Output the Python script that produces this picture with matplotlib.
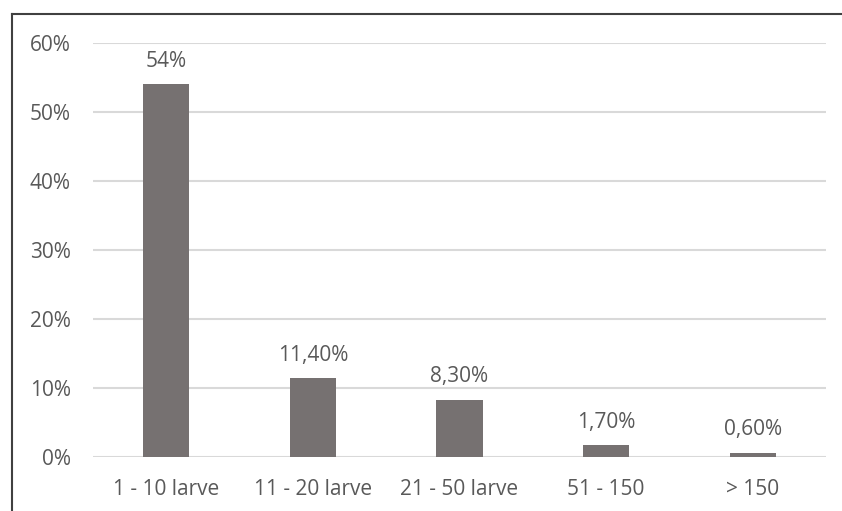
import matplotlib
matplotlib.use("Agg")
import matplotlib.pyplot as plt
from matplotlib.lines import Line2D
from matplotlib.ticker import FuncFormatter

categories = ["1 - 10 larve", "11 - 20 larve", "21 - 50 larve", "51 - 150", "> 150"]
values = [54.0, 11.4, 8.3, 1.7, 0.6]
value_labels = ["54%", "11,40%", "8,30%", "1,70%", "0,60%"]
y_ticks = [0, 10, 20, 30, 40, 50, 60]

bar_color = "#767171"
text_color = "#595959"
grid_color = "#d9d9d9"

plt.rcParams["font.family"] = ["Open Sans", "DejaVu Sans"]

W, H = 842, 511
fig = plt.figure(figsize=(W / 100, H / 100), dpi=100)
ax = fig.add_axes([93 / W, 1 - 457 / H, (826 - 93) / W, (457 - 43) / H])

x = list(range(len(categories)))
ax.bar(x, values, width=0.315, color=bar_color, zorder=3)
ax.set_xlim(-0.5, len(categories) - 0.5)
ax.set_ylim(0, 60)

ax.set_yticks(y_ticks)
ax.yaxis.set_major_formatter(FuncFormatter(lambda v, p: f"{v:.0f}%"))
ax.set_xticks(x)
ax.set_xticklabels(categories)
ax.tick_params(axis="both", length=0, labelsize=15, colors=text_color)
ax.tick_params(axis="y", pad=16)
ax.tick_params(axis="x", pad=16)

ax.grid(axis="y", color=grid_color, linewidth=1.5, zorder=0)
for s in ax.spines.values():
    s.set_visible(False)

for xi, v, lab in zip(x, values, value_labels):
    ax.annotate(lab, (xi, v), xytext=(0, 9), textcoords="offset points",
                ha="center", va="bottom", fontsize=15, color=text_color)

# outer frame (top and left edges)
fig.add_artist(Line2D([12 / W, 12 / W], [0, 1 - 14 / H], transform=fig.transFigure,
                      color="#404040", linewidth=1.5))
fig.add_artist(Line2D([12 / W, 1], [1 - 14 / H, 1 - 14 / H], transform=fig.transFigure,
                      color="#404040", linewidth=1.5))

fig.savefig("out.png", dpi=100)
